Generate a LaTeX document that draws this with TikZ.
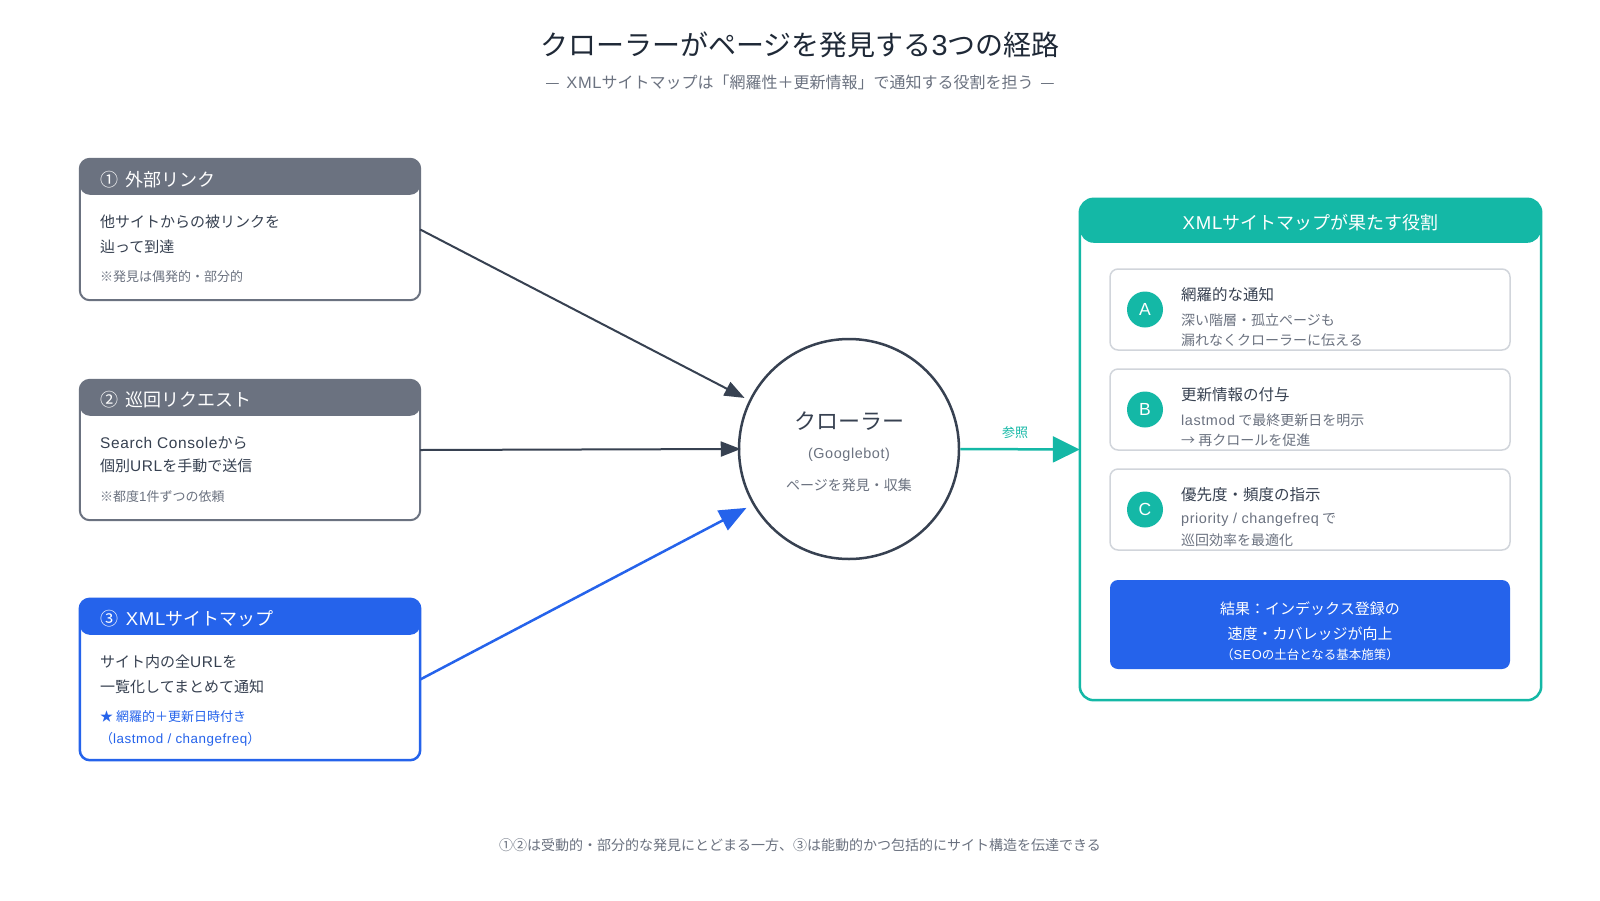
\documentclass[tikz,border=0pt]{standalone}
\usepackage{fontspec}
\setmainfont{Noto Sans CJK JP}
\newfontfamily\lat[Scale=1.03,LetterSpace=4]{Liberation Sans}
\usetikzlibrary{arrows.meta}
\definecolor{ink}{HTML}{374151}
\definecolor{titleink}{HTML}{1F2937}
\definecolor{graytx}{HTML}{6B7280}
\definecolor{grayhd}{HTML}{6B7280}
\definecolor{bluex}{HTML}{2563EB}
\definecolor{tealx}{HTML}{14B8A6}
\definecolor{cardline}{HTML}{D1D5DB}
\newcommand\fsz[1]{\fontsize{#1}{#1}\selectfont}
\newcommand\la[1]{{\lat #1}}
\newcommand\gap{\hspace{0.42em}}
\tikzset{
  txt/.style={inner sep=0pt, anchor=west, text=ink},
  ctxt/.style={inner sep=0pt, anchor=center},
  hdtext/.style={txt, text=white, font=\fsz{18}},
  bodytext/.style={txt, font=\fsz{15}},
  notetext/.style={txt, text=graytx, font=\fsz{13}},
  srcbox/.style={rectangle, fill=white, inner sep=0pt, minimum width=340pt},
  card/.style={rectangle, draw=cardline, line width=1.5pt, rounded corners=8pt, fill=white, minimum width=400pt, minimum height=81pt, inner sep=0pt},
  badge/.style={circle, fill=tealx, minimum size=36pt, inner sep=0pt, text=white, font=\fsz{17}\lat},
  cardtitle/.style={txt, font=\fsz{15.5}},
  cardsub/.style={txt, text=graytx, font=\fsz{14}},
  darrow/.style={draw=ink, line width=2pt, -{Triangle[length=20pt,width=15pt]}},
}
\begin{document}
\begin{tikzpicture}[x=1pt,y=-1pt]
\useasboundingbox[fill=white] (0,0) rectangle (1600,900);

% title
\node[ctxt, text=titleink, font=\fsz{28}] (title) at (800,45) {クローラーがページを発見する\la{3}つの経路};
\node[ctxt, text=graytx, font=\fsz{16}] (subtitle) at (800,82) {—\gap{}\la{XML}サイトマップは「網羅性＋更新情報」で通知する役割を担う\gap{}—};

% box 1
\node[srcbox, minimum height=141pt] (b1) at (250,229.5) {};
\fill[grayhd, rounded corners=10pt] (b1.north west) rectangle ([yshift=-36pt]b1.north east);
\draw[grayhd, line width=2pt, rounded corners=10pt] (b1.north west) rectangle (b1.south east);
\node[hdtext] (b1h) at (100,180) {①\gap{}外部リンク};
\node[bodytext] (b1a) at (100,222) {他サイトからの被リンクを};
\node[bodytext] (b1b) at (100,247) {辿って到達};
\node[notetext] (b1n) at (100,277) {※発見は偶発的・部分的};

% box 2
\node[srcbox, minimum height=140pt] (b2) at (250,450) {};
\fill[grayhd, rounded corners=10pt] (b2.north west) rectangle ([yshift=-36pt]b2.north east);
\draw[grayhd, line width=2pt, rounded corners=10pt] (b2.north west) rectangle (b2.south east);
\node[hdtext] (b2h) at (100,400) {②\gap{}巡回リクエスト};
\node[bodytext] (b2a) at (100,443) {\la{Search Console}から};
\node[bodytext] (b2b) at (100,466) {個別\la{URL}を手動で送信};
\node[notetext] (b2n) at (100,497) {※都度\la{1}件ずつの依頼};

% box 3
\node[srcbox, minimum height=161pt] (b3) at (250,679.5) {};
\fill[bluex, rounded corners=10pt] (b3.north west) rectangle ([yshift=-36pt]b3.north east);
\draw[bluex, line width=2.5pt, rounded corners=10pt] (b3.north west) rectangle (b3.south east);
\node[hdtext] (b3h) at (100,619) {③\gap{}\la{XML}サイトマップ};
\node[bodytext] (b3a) at (100,662) {サイト内の全\la{URL}を};
\node[bodytext] (b3b) at (100,687) {一覧化してまとめて通知};
\node[notetext, text=bluex] (b3n) at (100,717) {★ 網羅的＋更新日時付き};
\node[notetext, text=bluex] (b3m) at (100,739) {（\la{lastmod / changefreq}）};

% crawler
\node[circle, draw=ink, line width=2.5pt, fill=white, minimum size=220pt, inner sep=0pt] (crawler) at (849,449) {};
\node[ctxt, text=ink, font=\fsz{22}] (cr1) at (849,421) {クローラー};
\node[ctxt, text=graytx, font=\fsz{14}\lat] (cr2) at (849,455) {(Googlebot)};
\node[ctxt, text=graytx, font=\fsz{14}] (cr3) at (849,485) {ページを発見・収集};

% arrows
\draw[darrow, shorten >=5pt] (b1.east) -- (crawler.154);
\draw[darrow, shorten >=-3pt] (b2.east) -- (crawler.west);
\draw[draw=bluex, line width=2.5pt, shorten >=7pt, -{Triangle[length=27pt,width=22pt]}] (b3.east) -- (crawler.210);

% right panel
\node[rectangle, fill=white, minimum width=461pt, minimum height=501pt, inner sep=0pt] (panel) at (1310.5,449.5) {};
\fill[tealx, rounded corners=14pt] (panel.north west) rectangle ([yshift=-44pt]panel.north east);
\draw[tealx, line width=2.5pt, rounded corners=14pt] (panel.north west) rectangle (panel.south east);
\node[ctxt, text=white, font=\fsz{18}] (panelh) at (1310.5,223) {\la{XML}サイトマップが果たす役割};

\draw[draw=tealx, line width=2.5pt, -{Triangle[length=27pt,width=26pt]}] (crawler.east) -- (panel.west);
\node[ctxt, text=tealx, font=\fsz{13}] (ref) at (1015,433) {参照};

% card A
\node[card] (ca) at (1310,309.5) {};
\node[badge] (ba) at (1145,309.5) {A};
\node[cardtitle] (cat) at (1181,295) {網羅的な通知};
\node[cardsub] (ca1) at (1181,320) {深い階層・孤立ページも};
\node[cardsub] (ca2) at (1181,340) {漏れなくクローラーに伝える};

% card B
\node[card] (cb) at (1310,409.5) {};
\node[badge] (bb) at (1145,409.5) {B};
\node[cardtitle] (cbt) at (1181,395) {更新情報の付与};
\node[cardsub] (cb1) at (1181,420) {\la{lastmod} で最終更新日を明示};
\node[cardsub] (cb2) at (1181,440) {→ 再クロールを促進};

% card C
\node[card] (cc) at (1310,509.5) {};
\node[badge] (bc) at (1145,509.5) {C};
\node[cardtitle] (cct) at (1181,495) {優先度・頻度の指示};
\node[cardsub] (cc1) at (1181,520) {\la{priority / changefreq} で};
\node[cardsub] (cc2) at (1181,540) {巡回効率を最適化};

% result
\node[rectangle, fill=bluex, rounded corners=8pt, minimum width=400pt, minimum height=89pt, inner sep=0pt] (result) at (1310,624.5) {};
\node[ctxt, text=white, font=\fsz{15}] (r1) at (1310,609) {結果：インデックス登録の};
\node[ctxt, text=white, font=\fsz{15}] (r2) at (1310,634) {速度・カバレッジが向上};
\node[ctxt, text=white, font=\fsz{12.5}] (r3) at (1310,655) {（\la{SEO}の土台となる基本施策）};

% footer
\node[ctxt, text=graytx, font=\fsz{14}] (footer) at (800,845) {①②は受動的・部分的な発見にとどまる一方、③は能動的かつ包括的にサイト構造を伝達できる};
\end{tikzpicture}
\end{document}
